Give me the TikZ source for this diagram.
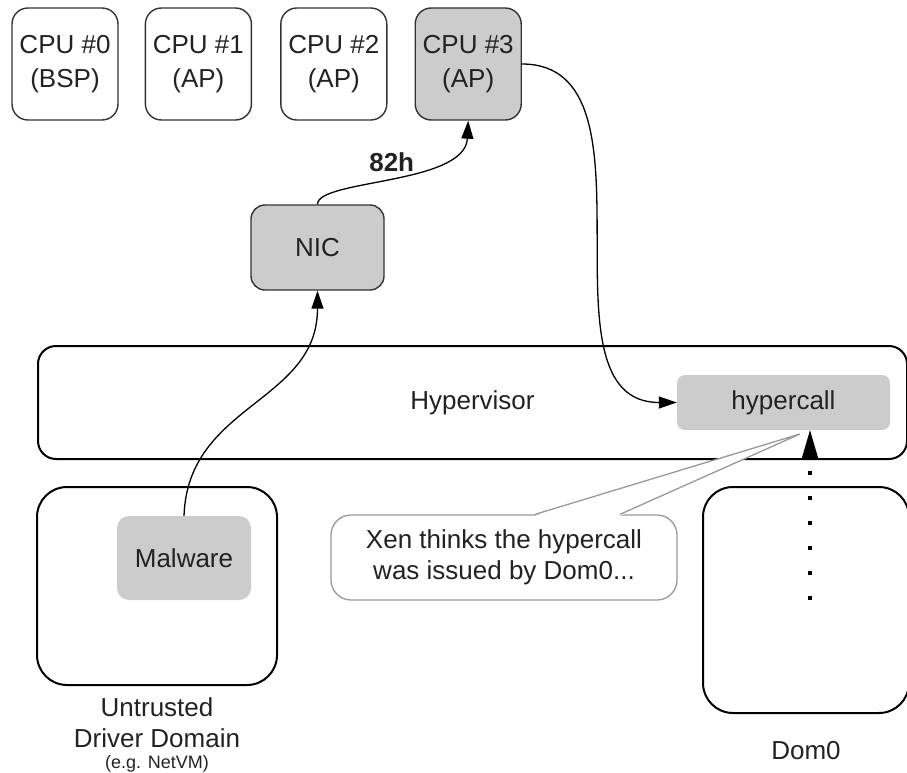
\documentclass[tikz,border=0pt]{standalone}
\usepackage{fontspec}
\setmainfont{Liberation Sans}
\usetikzlibrary{arrows.meta, positioning, calc}

\definecolor{boxgray}{HTML}{CCCCCC}
\definecolor{edgegray}{HTML}{333333}
\definecolor{notegray}{HTML}{999999}
\definecolor{inkgray}{HTML}{222222}

\begin{document}
\begin{tikzpicture}[
  x=1pt, y=-1pt,
  node distance=27pt,
  every node/.style={font=\fontsize{26}{31}\selectfont, text=inkgray},
  cpu/.style={rectangle, rounded corners=16pt, draw=edgegray, line width=1.4pt,
              minimum width=106pt, minimum height=112pt, align=center,
              font=\fontsize{26}{34}\selectfont},
  layerbox/.style={rectangle, rounded corners=18pt, draw, line width=2pt},
  vmbox/.style={rectangle, rounded corners=30pt, draw, line width=2pt},
  chip/.style={rectangle, fill=boxgray},
  caption/.style={align=center, inner sep=0pt},
  notebox/.style={rectangle, rounded corners=20pt, draw=notegray, fill=white,
                  line width=1.3pt, align=center,
                  minimum width=346pt, minimum height=85pt},
  arr/.style={-{Triangle[length=18pt, width=12pt]}, line width=1.3pt},
  dotarr/.style={line width=4pt, dash pattern=on 4pt off 21pt,
                 -{Triangle[length=29pt, width=17pt, line width=0pt]}},
]
\useasboundingbox (0,0) rectangle (907,773);

% layers and domains
\node[layerbox, minimum width=869pt, minimum height=113pt] (hv) at (472.5,402.5) {Hypervisor};
\node[vmbox, minimum width=240pt, minimum height=198pt] (udd) at (157,586) {};
\node[vmbox, minimum width=206pt, minimum height=226pt] (dom0) at (806,600) {};
\node[caption, below=11pt of udd] (uddlbl)
  {Untrusted\\Driver Domain\\[-10pt]{\fontsize{18}{22}\selectfont (e.g. NetVM)}};
\node[caption, below=27pt of dom0] (dom0lbl) {Dom0};

% CPUs
\node[cpu] (cpu0) at (65,64) {CPU \#0\\(BSP)};
\node[cpu, right=26pt of cpu0] (cpu1) {CPU \#1\\(AP)};
\node[cpu, right=28pt of cpu1] (cpu2) {CPU \#2\\(AP)};
\node[cpu, right=27pt of cpu2, fill=boxgray] (cpu3) {CPU \#3\\(AP)};

% devices and code
\node[chip, draw=edgegray, line width=1.4pt, rounded corners=14pt,
      minimum width=133pt, minimum height=85pt] (nic) at (317.5,247.5) {NIC};
\node[chip, rounded corners=12pt, minimum width=134pt, minimum height=84pt]
  (mal) at (184,558) {Malware};
\node[chip, rounded corners=8pt, minimum width=213pt, minimum height=55pt]
  (hyper) at (783.5,402.5) {hypercall};

% callout
\node[notebox] (note) at (504,557.5) {Xen thinks the hypercall\\was issued by Dom0...};
\coordinate (tip) at (800,434);
\fill[white] ([xshift=31pt, yshift=-1.5pt]note.north) -- (tip)
  -- ([xshift=116pt, yshift=-1.5pt]note.north) -- cycle;
\draw[notegray, line width=1.3pt] ([xshift=31pt]note.north) -- (tip)
  -- ([xshift=116pt]note.north);

% connectors
\draw[arr] (mal.north) to[out=88, in=-90, looseness=1.1] (nic.south);
\draw[arr] (nic.north) .. controls +(0,-25) and +(-3,64) .. (cpu3.south)
  node[pos=0.5, above, inner sep=5pt, font=\fontsize{26}{31}\selectfont\bfseries] {82h};
\draw[arr] (cpu3.east) to[out=0, in=180] (hyper.west);
\coordinate[right=4pt of dom0.center] (tap);
\draw[dotarr] (tap) -- (tap |- hyper.south);
\end{tikzpicture}
\end{document}
